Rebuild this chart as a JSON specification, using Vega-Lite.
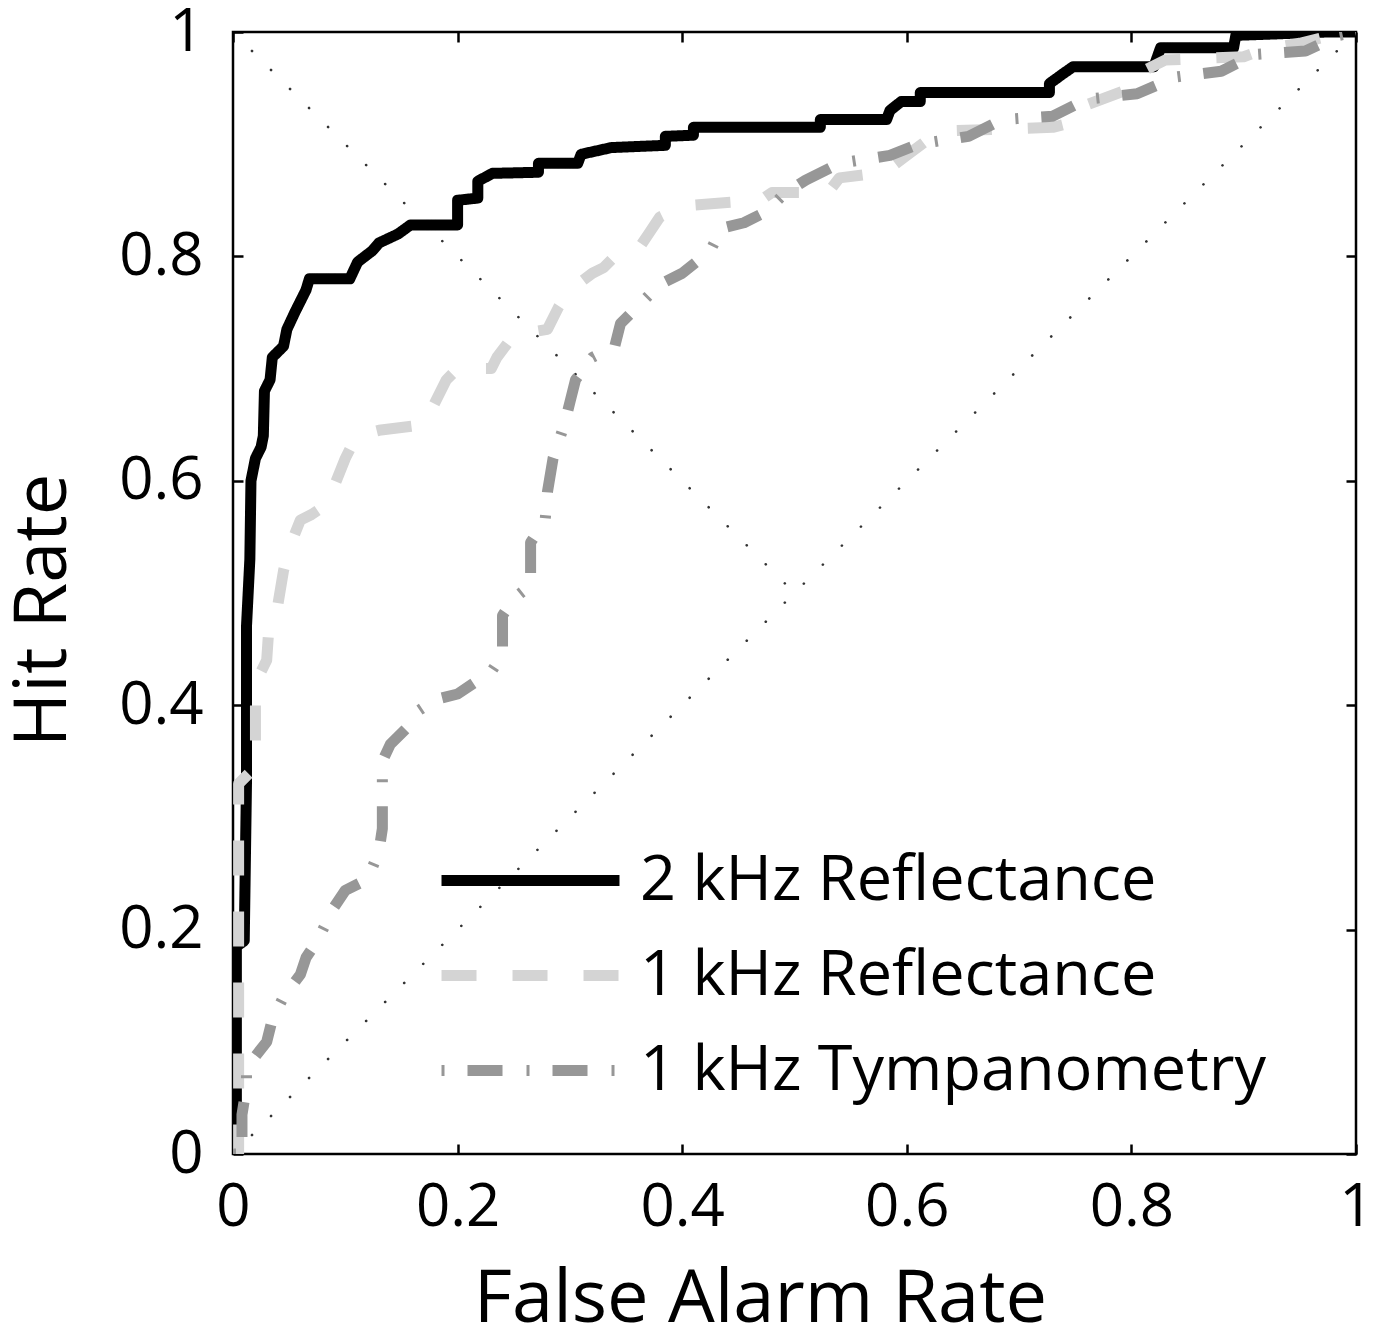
{
  "$schema": "https://vega.github.io/schema/vega-lite/v6.json",
  "width": 1123,
  "height": 1122,
  "autosize": {"type": "none"},
  "padding": {"left": 233, "top": 32, "right": 20, "bottom": 180},
  "background": "white",
  "config": {
    "view": {"stroke": "black", "strokeWidth": 2.5},
    "font": "Open Sans",
    "axis": {
      "domain": false,
      "grid": false,
      "tickColor": "black",
      "tickWidth": 2.5,
      "tickSize": -10,
      "labelFont": "Open Sans",
      "labelFontSize": 60,
      "labelColor": "black",
      "titleFont": "Open Sans",
      "titleFontSize": 74,
      "titleFontWeight": "normal",
      "titleColor": "black"
    },
    "legend": {
      "padding": 0,
      "labelFont": "Open Sans",
      "labelFontSize": 63,
      "labelColor": "black",
      "symbolStrokeWidth": 11,
      "symbolType": "M-4,0H4",
      "symbolSize": 1980,
      "labelOffset": 78,
      "rowPadding": 31,
      "labelLimit": 800
    }
  },
  "datasets": {
    "roc": [
      {"s": "2 kHz Reflectance", "i": 0, "x": 0, "y": 0},
      {"s": "2 kHz Reflectance", "i": 1, "x": 0.003, "y": 0},
      {"s": "2 kHz Reflectance", "i": 2, "x": 0.003, "y": 0.185},
      {"s": "2 kHz Reflectance", "i": 3, "x": 0.01, "y": 0.19},
      {"s": "2 kHz Reflectance", "i": 4, "x": 0.012, "y": 0.33},
      {"s": "2 kHz Reflectance", "i": 5, "x": 0.012, "y": 0.47},
      {"s": "2 kHz Reflectance", "i": 6, "x": 0.015, "y": 0.53},
      {"s": "2 kHz Reflectance", "i": 7, "x": 0.016, "y": 0.6},
      {"s": "2 kHz Reflectance", "i": 8, "x": 0.02, "y": 0.62},
      {"s": "2 kHz Reflectance", "i": 9, "x": 0.025, "y": 0.63},
      {"s": "2 kHz Reflectance", "i": 10, "x": 0.027, "y": 0.64},
      {"s": "2 kHz Reflectance", "i": 11, "x": 0.028, "y": 0.68},
      {"s": "2 kHz Reflectance", "i": 12, "x": 0.033, "y": 0.69},
      {"s": "2 kHz Reflectance", "i": 13, "x": 0.035, "y": 0.71},
      {"s": "2 kHz Reflectance", "i": 14, "x": 0.045, "y": 0.72},
      {"s": "2 kHz Reflectance", "i": 15, "x": 0.048, "y": 0.735},
      {"s": "2 kHz Reflectance", "i": 16, "x": 0.055, "y": 0.75},
      {"s": "2 kHz Reflectance", "i": 17, "x": 0.06, "y": 0.76},
      {"s": "2 kHz Reflectance", "i": 18, "x": 0.065, "y": 0.77},
      {"s": "2 kHz Reflectance", "i": 19, "x": 0.068, "y": 0.78},
      {"s": "2 kHz Reflectance", "i": 20, "x": 0.104, "y": 0.78},
      {"s": "2 kHz Reflectance", "i": 21, "x": 0.111, "y": 0.795},
      {"s": "2 kHz Reflectance", "i": 22, "x": 0.124, "y": 0.805},
      {"s": "2 kHz Reflectance", "i": 23, "x": 0.13, "y": 0.812},
      {"s": "2 kHz Reflectance", "i": 24, "x": 0.147, "y": 0.82},
      {"s": "2 kHz Reflectance", "i": 25, "x": 0.158, "y": 0.828},
      {"s": "2 kHz Reflectance", "i": 26, "x": 0.2, "y": 0.828},
      {"s": "2 kHz Reflectance", "i": 27, "x": 0.2, "y": 0.85},
      {"s": "2 kHz Reflectance", "i": 28, "x": 0.218, "y": 0.852},
      {"s": "2 kHz Reflectance", "i": 29, "x": 0.218, "y": 0.867},
      {"s": "2 kHz Reflectance", "i": 30, "x": 0.231, "y": 0.874},
      {"s": "2 kHz Reflectance", "i": 31, "x": 0.272, "y": 0.875},
      {"s": "2 kHz Reflectance", "i": 32, "x": 0.272, "y": 0.883},
      {"s": "2 kHz Reflectance", "i": 33, "x": 0.307, "y": 0.883},
      {"s": "2 kHz Reflectance", "i": 34, "x": 0.31, "y": 0.891},
      {"s": "2 kHz Reflectance", "i": 35, "x": 0.337, "y": 0.897},
      {"s": "2 kHz Reflectance", "i": 36, "x": 0.385, "y": 0.899},
      {"s": "2 kHz Reflectance", "i": 37, "x": 0.385, "y": 0.907},
      {"s": "2 kHz Reflectance", "i": 38, "x": 0.41, "y": 0.908},
      {"s": "2 kHz Reflectance", "i": 39, "x": 0.41, "y": 0.915},
      {"s": "2 kHz Reflectance", "i": 40, "x": 0.523, "y": 0.915},
      {"s": "2 kHz Reflectance", "i": 41, "x": 0.523, "y": 0.922},
      {"s": "2 kHz Reflectance", "i": 42, "x": 0.582, "y": 0.922},
      {"s": "2 kHz Reflectance", "i": 43, "x": 0.585, "y": 0.93},
      {"s": "2 kHz Reflectance", "i": 44, "x": 0.595, "y": 0.938},
      {"s": "2 kHz Reflectance", "i": 45, "x": 0.612, "y": 0.938},
      {"s": "2 kHz Reflectance", "i": 46, "x": 0.612, "y": 0.946},
      {"s": "2 kHz Reflectance", "i": 47, "x": 0.727, "y": 0.946},
      {"s": "2 kHz Reflectance", "i": 48, "x": 0.727, "y": 0.954},
      {"s": "2 kHz Reflectance", "i": 49, "x": 0.738, "y": 0.962},
      {"s": "2 kHz Reflectance", "i": 50, "x": 0.748, "y": 0.969},
      {"s": "2 kHz Reflectance", "i": 51, "x": 0.82, "y": 0.969},
      {"s": "2 kHz Reflectance", "i": 52, "x": 0.826, "y": 0.986},
      {"s": "2 kHz Reflectance", "i": 53, "x": 0.891, "y": 0.986},
      {"s": "2 kHz Reflectance", "i": 54, "x": 0.893, "y": 0.997},
      {"s": "2 kHz Reflectance", "i": 55, "x": 0.975, "y": 1.0},
      {"s": "2 kHz Reflectance", "i": 56, "x": 1, "y": 1},

      {"s": "1 kHz Reflectance", "i": 0, "x": 0, "y": 0},
      {"s": "1 kHz Reflectance", "i": 1, "x": 0.005, "y": 0.0},
      {"s": "1 kHz Reflectance", "i": 2, "x": 0.005, "y": 0.33},
      {"s": "1 kHz Reflectance", "i": 3, "x": 0.015, "y": 0.34},
      {"s": "1 kHz Reflectance", "i": 4, "x": 0.02, "y": 0.345},
      {"s": "1 kHz Reflectance", "i": 5, "x": 0.02, "y": 0.42},
      {"s": "1 kHz Reflectance", "i": 6, "x": 0.03, "y": 0.44},
      {"s": "1 kHz Reflectance", "i": 7, "x": 0.032, "y": 0.47},
      {"s": "1 kHz Reflectance", "i": 8, "x": 0.04, "y": 0.49},
      {"s": "1 kHz Reflectance", "i": 9, "x": 0.045, "y": 0.52},
      {"s": "1 kHz Reflectance", "i": 10, "x": 0.05, "y": 0.54},
      {"s": "1 kHz Reflectance", "i": 11, "x": 0.06, "y": 0.565},
      {"s": "1 kHz Reflectance", "i": 12, "x": 0.07, "y": 0.57},
      {"s": "1 kHz Reflectance", "i": 13, "x": 0.085, "y": 0.58},
      {"s": "1 kHz Reflectance", "i": 14, "x": 0.09, "y": 0.595},
      {"s": "1 kHz Reflectance", "i": 15, "x": 0.1, "y": 0.62},
      {"s": "1 kHz Reflectance", "i": 16, "x": 0.11, "y": 0.64},
      {"s": "1 kHz Reflectance", "i": 17, "x": 0.13, "y": 0.645},
      {"s": "1 kHz Reflectance", "i": 18, "x": 0.17, "y": 0.65},
      {"s": "1 kHz Reflectance", "i": 19, "x": 0.18, "y": 0.67},
      {"s": "1 kHz Reflectance", "i": 20, "x": 0.19, "y": 0.69},
      {"s": "1 kHz Reflectance", "i": 21, "x": 0.2, "y": 0.7},
      {"s": "1 kHz Reflectance", "i": 22, "x": 0.23, "y": 0.7},
      {"s": "1 kHz Reflectance", "i": 23, "x": 0.235, "y": 0.71},
      {"s": "1 kHz Reflectance", "i": 24, "x": 0.25, "y": 0.73},
      {"s": "1 kHz Reflectance", "i": 25, "x": 0.28, "y": 0.735},
      {"s": "1 kHz Reflectance", "i": 26, "x": 0.29, "y": 0.755},
      {"s": "1 kHz Reflectance", "i": 27, "x": 0.3, "y": 0.77},
      {"s": "1 kHz Reflectance", "i": 28, "x": 0.32, "y": 0.785},
      {"s": "1 kHz Reflectance", "i": 29, "x": 0.33, "y": 0.79},
      {"s": "1 kHz Reflectance", "i": 30, "x": 0.34, "y": 0.8},
      {"s": "1 kHz Reflectance", "i": 31, "x": 0.36, "y": 0.805},
      {"s": "1 kHz Reflectance", "i": 32, "x": 0.37, "y": 0.82},
      {"s": "1 kHz Reflectance", "i": 33, "x": 0.38, "y": 0.835},
      {"s": "1 kHz Reflectance", "i": 34, "x": 0.4, "y": 0.845},
      {"s": "1 kHz Reflectance", "i": 35, "x": 0.44, "y": 0.848},
      {"s": "1 kHz Reflectance", "i": 36, "x": 0.47, "y": 0.85},
      {"s": "1 kHz Reflectance", "i": 37, "x": 0.48, "y": 0.857},
      {"s": "1 kHz Reflectance", "i": 38, "x": 0.53, "y": 0.857},
      {"s": "1 kHz Reflectance", "i": 39, "x": 0.54, "y": 0.87},
      {"s": "1 kHz Reflectance", "i": 40, "x": 0.58, "y": 0.875},
      {"s": "1 kHz Reflectance", "i": 41, "x": 0.6, "y": 0.89},
      {"s": "1 kHz Reflectance", "i": 42, "x": 0.62, "y": 0.905},
      {"s": "1 kHz Reflectance", "i": 43, "x": 0.64, "y": 0.912},
      {"s": "1 kHz Reflectance", "i": 44, "x": 0.73, "y": 0.915},
      {"s": "1 kHz Reflectance", "i": 45, "x": 0.75, "y": 0.92},
      {"s": "1 kHz Reflectance", "i": 46, "x": 0.76, "y": 0.935},
      {"s": "1 kHz Reflectance", "i": 47, "x": 0.8, "y": 0.95},
      {"s": "1 kHz Reflectance", "i": 48, "x": 0.81, "y": 0.965},
      {"s": "1 kHz Reflectance", "i": 49, "x": 0.83, "y": 0.975},
      {"s": "1 kHz Reflectance", "i": 50, "x": 0.9, "y": 0.978},
      {"s": "1 kHz Reflectance", "i": 51, "x": 0.92, "y": 0.985},
      {"s": "1 kHz Reflectance", "i": 52, "x": 0.95, "y": 0.99},
      {"s": "1 kHz Reflectance", "i": 53, "x": 0.97, "y": 0.995},
      {"s": "1 kHz Reflectance", "i": 54, "x": 1, "y": 1},

      {"s": "1 kHz Tympanometry", "i": 0, "x": 0, "y": 0},
      {"s": "1 kHz Tympanometry", "i": 1, "x": 0.008, "y": 0.0},
      {"s": "1 kHz Tympanometry", "i": 2, "x": 0.008, "y": 0.035},
      {"s": "1 kHz Tympanometry", "i": 3, "x": 0.012, "y": 0.06},
      {"s": "1 kHz Tympanometry", "i": 4, "x": 0.012, "y": 0.077},
      {"s": "1 kHz Tympanometry", "i": 5, "x": 0.03, "y": 0.1},
      {"s": "1 kHz Tympanometry", "i": 6, "x": 0.035, "y": 0.12},
      {"s": "1 kHz Tympanometry", "i": 7, "x": 0.045, "y": 0.14},
      {"s": "1 kHz Tympanometry", "i": 8, "x": 0.06, "y": 0.16},
      {"s": "1 kHz Tympanometry", "i": 9, "x": 0.065, "y": 0.175},
      {"s": "1 kHz Tympanometry", "i": 10, "x": 0.075, "y": 0.19},
      {"s": "1 kHz Tympanometry", "i": 11, "x": 0.09, "y": 0.22},
      {"s": "1 kHz Tympanometry", "i": 12, "x": 0.1, "y": 0.235},
      {"s": "1 kHz Tympanometry", "i": 13, "x": 0.12, "y": 0.245},
      {"s": "1 kHz Tympanometry", "i": 14, "x": 0.13, "y": 0.27},
      {"s": "1 kHz Tympanometry", "i": 15, "x": 0.133, "y": 0.29},
      {"s": "1 kHz Tympanometry", "i": 16, "x": 0.133, "y": 0.35},
      {"s": "1 kHz Tympanometry", "i": 17, "x": 0.14, "y": 0.365},
      {"s": "1 kHz Tympanometry", "i": 18, "x": 0.155, "y": 0.38},
      {"s": "1 kHz Tympanometry", "i": 19, "x": 0.165, "y": 0.395},
      {"s": "1 kHz Tympanometry", "i": 20, "x": 0.18, "y": 0.405},
      {"s": "1 kHz Tympanometry", "i": 21, "x": 0.2, "y": 0.41},
      {"s": "1 kHz Tympanometry", "i": 22, "x": 0.215, "y": 0.42},
      {"s": "1 kHz Tympanometry", "i": 23, "x": 0.23, "y": 0.43},
      {"s": "1 kHz Tympanometry", "i": 24, "x": 0.24, "y": 0.445},
      {"s": "1 kHz Tympanometry", "i": 25, "x": 0.24, "y": 0.48},
      {"s": "1 kHz Tympanometry", "i": 26, "x": 0.25, "y": 0.495},
      {"s": "1 kHz Tympanometry", "i": 27, "x": 0.265, "y": 0.507},
      {"s": "1 kHz Tympanometry", "i": 28, "x": 0.265, "y": 0.545},
      {"s": "1 kHz Tympanometry", "i": 29, "x": 0.278, "y": 0.565},
      {"s": "1 kHz Tympanometry", "i": 30, "x": 0.28, "y": 0.59},
      {"s": "1 kHz Tympanometry", "i": 31, "x": 0.285, "y": 0.62},
      {"s": "1 kHz Tympanometry", "i": 32, "x": 0.295, "y": 0.65},
      {"s": "1 kHz Tympanometry", "i": 33, "x": 0.3, "y": 0.67},
      {"s": "1 kHz Tympanometry", "i": 34, "x": 0.305, "y": 0.69},
      {"s": "1 kHz Tympanometry", "i": 35, "x": 0.32, "y": 0.71},
      {"s": "1 kHz Tympanometry", "i": 36, "x": 0.34, "y": 0.72},
      {"s": "1 kHz Tympanometry", "i": 37, "x": 0.345, "y": 0.74},
      {"s": "1 kHz Tympanometry", "i": 38, "x": 0.365, "y": 0.76},
      {"s": "1 kHz Tympanometry", "i": 39, "x": 0.38, "y": 0.775},
      {"s": "1 kHz Tympanometry", "i": 40, "x": 0.4, "y": 0.785},
      {"s": "1 kHz Tympanometry", "i": 41, "x": 0.425, "y": 0.805},
      {"s": "1 kHz Tympanometry", "i": 42, "x": 0.435, "y": 0.825},
      {"s": "1 kHz Tympanometry", "i": 43, "x": 0.455, "y": 0.83},
      {"s": "1 kHz Tympanometry", "i": 44, "x": 0.475, "y": 0.84},
      {"s": "1 kHz Tympanometry", "i": 45, "x": 0.49, "y": 0.855},
      {"s": "1 kHz Tympanometry", "i": 46, "x": 0.51, "y": 0.868},
      {"s": "1 kHz Tympanometry", "i": 47, "x": 0.54, "y": 0.883},
      {"s": "1 kHz Tympanometry", "i": 48, "x": 0.585, "y": 0.89},
      {"s": "1 kHz Tympanometry", "i": 49, "x": 0.61, "y": 0.9},
      {"s": "1 kHz Tympanometry", "i": 50, "x": 0.655, "y": 0.907},
      {"s": "1 kHz Tympanometry", "i": 51, "x": 0.685, "y": 0.922},
      {"s": "1 kHz Tympanometry", "i": 52, "x": 0.73, "y": 0.925},
      {"s": "1 kHz Tympanometry", "i": 53, "x": 0.76, "y": 0.94},
      {"s": "1 kHz Tympanometry", "i": 54, "x": 0.805, "y": 0.945},
      {"s": "1 kHz Tympanometry", "i": 55, "x": 0.84, "y": 0.96},
      {"s": "1 kHz Tympanometry", "i": 56, "x": 0.88, "y": 0.965},
      {"s": "1 kHz Tympanometry", "i": 57, "x": 0.91, "y": 0.98},
      {"s": "1 kHz Tympanometry", "i": 58, "x": 0.955, "y": 0.983},
      {"s": "1 kHz Tympanometry", "i": 59, "x": 0.985, "y": 0.997},
      {"s": "1 kHz Tympanometry", "i": 60, "x": 1, "y": 1}
    ],
    "ref": [
      {"seg": "diagonal", "i": 0, "x": 0, "y": 0},
      {"seg": "diagonal", "i": 1, "x": 1, "y": 1},
      {"seg": "anti", "i": 0, "x": 0, "y": 1},
      {"seg": "anti", "i": 1, "x": 0.5, "y": 0.5}
    ]
  },
  "layer": [
    {
      "data": {"name": "ref"},
      "mark": {"type": "line", "stroke": "#333333", "strokeWidth": 2.6, "strokeCap": "round", "strokeDash": [0.1, 26.8], "strokeDashOffset": -26.8, "clip": true},
      "encoding": {
        "x": {"field": "x", "type": "quantitative", "scale": {"domain": [0, 1], "nice": false, "zero": false},
              "axis": {"orient": "bottom", "values": [0, 0.2, 0.4, 0.6, 0.8, 1], "format": "~g", "title": "False Alarm Rate", "labelPadding": 34, "titlePadding": 26, "titleX": 527, "labelFlush": false}},
        "y": {"field": "y", "type": "quantitative", "scale": {"domain": [0, 1], "nice": false, "zero": false},
              "axis": {"orient": "left", "values": [0, 0.2, 0.4, 0.6, 0.8, 1], "format": "~g", "title": "Hit Rate", "labelPadding": 40, "titlePadding": 37, "titleY": 578, "labelFlush": false}},
        "detail": {"field": "seg", "type": "nominal"},
        "order": {"field": "i", "type": "quantitative"}
      }
    },
    {
      "data": {"name": "roc"},
      "mark": {"type": "line", "strokeWidth": 11, "strokeJoin": "round", "strokeCap": "butt", "clip": true},
      "encoding": {
        "x": {"field": "x", "type": "quantitative", "axis": null},
        "y": {"field": "y", "type": "quantitative", "axis": null},
        "order": {"field": "i", "type": "quantitative"},
        "color": {
          "field": "s", "type": "nominal",
          "scale": {"domain": ["2 kHz Reflectance", "1 kHz Reflectance", "1 kHz Tympanometry"], "range": ["#000000", "#d4d4d4", "#979797"]},
          "legend": {"title": null, "orient": "none", "legendX": 266, "legendY": 817}
        },
        "strokeDash": {
          "field": "s", "type": "nominal",
          "scale": {"domain": ["2 kHz Reflectance", "1 kHz Reflectance", "1 kHz Tympanometry"], "range": [[1, 0], [35, 36], [3, 23, 35, 24]]},
          "legend": {"title": null, "orient": "none", "legendX": 266, "legendY": 817}
        }
      }
    },
    {
      "data": {"name": "ref"},
      "mark": {"type": "point", "opacity": 0},
      "encoding": {
        "x": {"field": "x", "type": "quantitative", "axis": {"orient": "top", "values": [0, 0.2, 0.4, 0.6, 0.8, 1], "labels": false, "title": null}},
        "y": {"field": "y", "type": "quantitative", "axis": {"orient": "right", "values": [0, 0.2, 0.4, 0.6, 0.8, 1], "labels": false, "title": null}}
      }
    }
  ],
  "resolve": {"axis": {"x": "independent", "y": "independent"}}
}
